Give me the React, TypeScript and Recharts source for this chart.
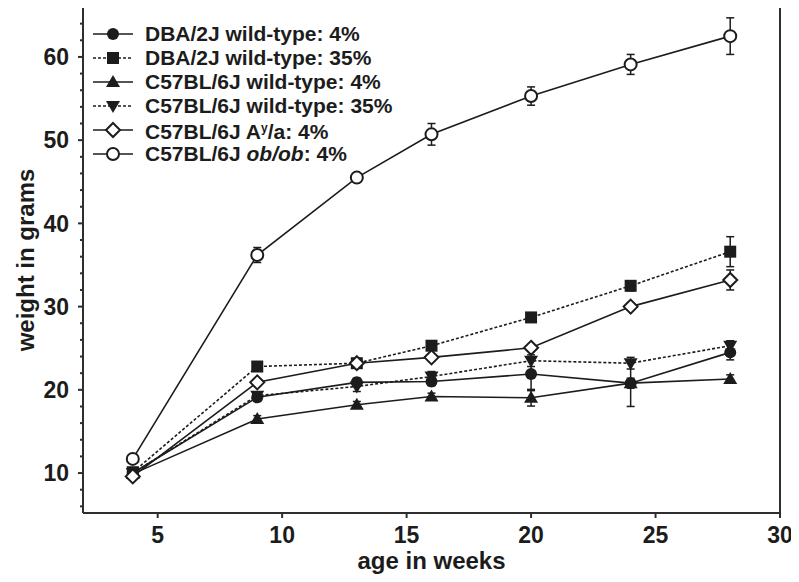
import React from "react";
import { LineChart, Line, XAxis, YAxis, ErrorBar, ReferenceLine } from "recharts";

const WEEKS = [4, 9, 13, 16, 20, 24, 28];

const DBA_4 = [10.0, 19.1, 20.9, 21.0, 21.9, 20.8, 24.5];
const DBA_4_ERR = [0.3, 0.5, 0.5, 0.5, 2.0, 2.8, 0.9];
const DBA_35 = [10.1, 22.8, 23.2, 25.3, 28.7, 32.5, 36.6];
const DBA_35_ERR = [0.3, 0.5, 0.5, 0.5, 0.5, 0.6, 1.8];
const B6_4 = [9.9, 16.5, 18.2, 19.2, 19.05, 20.8, 21.3];
const B6_4_ERR = [0.2, 0.4, 0.4, 0.4, 1.0, 0.6, 0.5];
const B6_35 = [10.0, 19.3, 20.4, 21.6, 23.5, 23.2, 25.3];
const B6_35_ERR = [0.3, 0.4, 0.6, 0.6, 0.7, 0.7, 0.6];
const AY_4 = [9.6, 20.9, 23.2, 23.9, 25.05, 30.0, 33.2];
const AY_4_ERR = [0.3, 0.4, 0.4, 0.4, 0.4, 0.4, 1.2];
const OB_4 = [11.7, 36.2, 45.5, 50.7, 55.3, 59.1, 62.5];
const OB_4_ERR = [0.4, 0.9, 0.5, 1.3, 1.1, 1.2, 2.2];

const SERIES_NAMES = [
  "DBA/2J wild-type: 4%",
  "DBA/2J wild-type: 35%",
  "C57BL/6J wild-type: 4%",
  "C57BL/6J wild-type: 35%",
  "C57BL/6J Ay/a: 4%",
  "C57BL/6J ob/ob: 4%",
];

const X_TICKS = [5, 10, 15, 20, 25, 30];
const Y_TICKS = [6, 8, 10, 12, 14, 16, 18, 20, 22, 24, 26, 28, 30, 32, 34, 36, 38, 40, 42, 44, 46, 48, 50, 52, 54, 56, 58, 60, 62, 64];
const X_MIN = 2;
const X_MAX = 30;
const Y_MIN = 5.2;
const Y_MAX = 66;

const INK = "#1c1c1c";
const FRAME = "#2e2e2e";
const FONT = "'Liberation Sans', Arial, Helvetica, sans-serif";
const MARGIN = { top: 7, right: 19, bottom: 0, left: 0 };
const Y_AXIS_W = 83;
const X_AXIS_H = 69;
const W = 799;
const H = 582;

type Shape = "circle" | "square" | "triangle" | "triangleDown" | "diamond" | "openCircle";

const series: { name: string; values: number[]; errors: number[]; shape: Shape; dashed: boolean }[] = [
  { name: SERIES_NAMES[0], values: DBA_4, errors: DBA_4_ERR, shape: "circle", dashed: false },
  { name: SERIES_NAMES[1], values: DBA_35, errors: DBA_35_ERR, shape: "square", dashed: true },
  { name: SERIES_NAMES[2], values: B6_4, errors: B6_4_ERR, shape: "triangle", dashed: false },
  { name: SERIES_NAMES[3], values: B6_35, errors: B6_35_ERR, shape: "triangleDown", dashed: true },
  { name: SERIES_NAMES[4], values: AY_4, errors: AY_4_ERR, shape: "diamond", dashed: false },
  { name: SERIES_NAMES[5], values: OB_4, errors: OB_4_ERR, shape: "openCircle", dashed: false },
];

function marker(shape: Shape, cx: number, cy: number) {
  switch (shape) {
    case "circle":
      return <circle cx={cx} cy={cy} r={6} fill={INK} />;
    case "square":
      return <rect x={cx - 6} y={cy - 6} width={12} height={12} fill={INK} />;
    case "triangle":
      return <polygon points={`${cx},${cy - 7} ${cx + 7},${cy + 5} ${cx - 7},${cy + 5}`} fill={INK} />;
    case "triangleDown":
      return <polygon points={`${cx},${cy + 7} ${cx + 7},${cy - 5} ${cx - 7},${cy - 5}`} fill={INK} />;
    case "diamond":
      return (
        <polygon
          points={`${cx},${cy - 7} ${cx + 7},${cy} ${cx},${cy + 7} ${cx - 7},${cy}`}
          fill="#fff"
          stroke={INK}
          strokeWidth={2}
        />
      );
    default:
      return <circle cx={cx} cy={cy} r={6} fill="#fff" stroke={INK} strokeWidth={2} />;
  }
}

function legendLabel(name: string) {
  if (name.includes("Ay/a")) {
    return (
      <>
        C57BL/6J A<sup style={{ fontSize: 12, verticalAlign: "7px" }}>y</sup>/a: 4%
      </>
    );
  }
  if (name.includes("ob/ob")) {
    return (
      <>
        C57BL/6J <i>ob/ob</i>: 4%
      </>
    );
  }
  return name;
}

function LegendBox() {
  return (
    <div style={{ position: "absolute", left: 93, top: 22, fontFamily: FONT, fontWeight: 700, fontSize: 21, color: INK }}>
      {series.map((s) => (
        <div key={s.name} style={{ display: "flex", alignItems: "center", height: 24, whiteSpace: "nowrap" }}>
          <svg width={40} height={20} style={{ overflow: "visible" }}>
            <line
              x1={0}
              x2={40}
              y1={10}
              y2={10}
              stroke={INK}
              strokeWidth={1.6}
              strokeDasharray={s.dashed ? "3 2" : undefined}
            />
            {marker(s.shape, 20, 10)}
          </svg>
          <span style={{ marginLeft: 12, lineHeight: "24px" }}>{legendLabel(s.name)}</span>
        </div>
      ))}
    </div>
  );
}

// labels every 10, short minor ticks every 2
function WeightTick(props: any) {
  const { x, y, payload } = props;
  const major = payload.value % 10 === 0;
  return (
    <g>
      <path d={`M${x + (major ? 9 : 11)},${y}h${major ? 5 : 3}`} stroke={FRAME} strokeWidth={2} fill="none" />
      {major && (
        <text x={x} y={y} dy="0.36em" textAnchor="end" fontFamily={FONT} fontWeight={700} fontSize={23} fill={INK}>
          {payload.value}
        </text>
      )}
    </g>
  );
}

function AgeTick(props: any) {
  const { x, y, payload } = props;
  return (
    <g>
      <path d={`M${x},${y - 14}v5`} stroke={FRAME} strokeWidth={2} fill="none" />
      <text x={x} y={y} dy="0.71em" textAnchor="middle" fontFamily={FONT} fontWeight={700} fontSize={23} fill={INK}>
        {payload.value}
      </text>
    </g>
  );
}

const titleStyle: React.CSSProperties = {
  position: "absolute",
  fontFamily: FONT,
  fontWeight: 700,
  fontSize: 24,
  color: INK,
  whiteSpace: "nowrap",
  lineHeight: "28px",
};

export default function App() {
  const plotW = W - Y_AXIS_W - MARGIN.left - MARGIN.right;
  const plotH = H - X_AXIS_H - MARGIN.top - MARGIN.bottom;
  return (
    <div style={{ position: "relative", margin: -8, width: W, height: H, background: "#fff" }}>
      <LineChart width={W} height={H} margin={MARGIN}>
        <XAxis
          dataKey="week"
          type="number"
          domain={[X_MIN, X_MAX]}
          ticks={X_TICKS}
          height={X_AXIS_H}
          stroke={FRAME}
          strokeWidth={2}
          tickLine={false}
          tickSize={5}
          tickMargin={9}
          tick={<AgeTick />}
        />
        <YAxis
          type="number"
          domain={[Y_MIN, Y_MAX]}
          ticks={Y_TICKS}
          interval={0}
          width={Y_AXIS_W}
          stroke={FRAME}
          strokeWidth={2}
          tickLine={false}
          tickSize={5}
          tickMargin={9}
          tick={<WeightTick />}
        />
        <ReferenceLine x={X_MAX} stroke={FRAME} strokeWidth={2} />
        <ReferenceLine y={Y_MAX} stroke={FRAME} strokeWidth={2} />
        {series.map((s) => (
          <Line
            key={s.name}
            name={s.name}
            data={WEEKS.map((w, i) => ({ week: w, weight: s.values[i], err: s.errors[i] }))}
            dataKey="weight"
            type="linear"
            stroke={INK}
            strokeWidth={1.6}
            strokeDasharray={s.dashed ? "3 2" : undefined}
            isAnimationActive={false}
            dot={(p: any) => <g key={`${s.name}-${p.index}`}>{marker(s.shape, p.cx, p.cy)}</g>}
            activeDot={false}
          >
            <ErrorBar dataKey="err" direction="y" width={4} stroke={INK} strokeWidth={1.5} />
          </Line>
        ))}
      </LineChart>
      <LegendBox />
      <div style={{ ...titleStyle, left: MARGIN.left + Y_AXIS_W + plotW / 2, top: 547, transform: "translateX(-50%)" }}>
        age in weeks
      </div>
      <div
        style={{
          ...titleStyle,
          left: 26,
          top: MARGIN.top + plotH / 2,
          transform: "translate(-50%, -50%) rotate(-90deg)",
        }}
      >
        weight in grams
      </div>
    </div>
  );
}
